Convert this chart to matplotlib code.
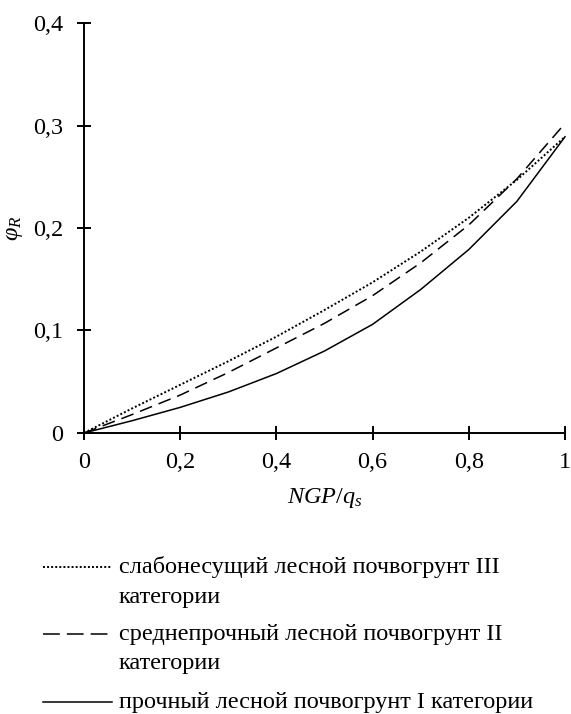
import matplotlib.pyplot as plt
from matplotlib.lines import Line2D

plt.rcParams["font.family"] = ["Liberation Serif", "DejaVu Serif"]
plt.rcParams["mathtext.fontset"] = "custom"
plt.rcParams["mathtext.it"] = "Liberation Serif:italic"
plt.rcParams["mathtext.rm"] = "Liberation Serif"

x = [0, 0.1, 0.2, 0.3, 0.4, 0.5, 0.6, 0.7, 0.8, 0.9, 1.0]
weak = [0, 0.024, 0.047, 0.070, 0.094, 0.120, 0.147, 0.177, 0.210, 0.247, 0.289]
medium = [0, 0.018, 0.037, 0.059, 0.083, 0.107, 0.134, 0.166, 0.203, 0.248, 0.302]
strong = [0, 0.012, 0.025, 0.040, 0.058, 0.080, 0.106, 0.140, 0.179, 0.226, 0.289]

labels = [
    ["слабонесущий лесной почвогрунт III", "категории"],
    ["среднепрочный лесной почвогрунт II", "категории"],
    ["прочный лесной почвогрунт I категории"],
]
xticks = [0, 0.2, 0.4, 0.6, 0.8, 1.0]
xticklabels = ["0", "0,2", "0,4", "0,6", "0,8", "1"]
yticks = [0, 0.1, 0.2, 0.3, 0.4]
yticklabels = ["0", "0,1", "0,2", "0,3", "0,4"]

W, H = 571, 714
fig = plt.figure(figsize=(W / 100, H / 100), dpi=100)
ax = fig.add_axes([84 / W, 1 - 433 / H, (565 - 84) / W, (433 - 23) / H])

plot_styles = [dict(linestyle=(0, (1, 1.1)), linewidth=1.4),
               dict(linestyle=(0, (8.5, 4.6)), linewidth=1.1),
               dict(linestyle="-", linewidth=1.1)]
legend_styles = [dict(linestyle=(0, (1, 1.1)), linewidth=1.4),
                 dict(linestyle=(0, (11, 4.6)), linewidth=1.1),
                 dict(linestyle="-", linewidth=1.1)]

for ys, st in zip([weak, medium, strong], plot_styles):
    ax.plot(x, ys, color="black", clip_on=False, **st)

ax.set_xlim(0, 1)
ax.set_ylim(0, 0.4)
ax.set_xticks(xticks)
ax.set_xticklabels(xticklabels)
ax.set_yticks(yticks)
ax.set_yticklabels(yticklabels)
for s in ["top", "right"]:
    ax.spines[s].set_visible(False)
for s in ["left", "bottom"]:
    ax.spines[s].set_linewidth(1.4)
ax.tick_params(direction="inout", length=9.5, width=1.4, labelsize=17.5)
ax.tick_params(axis="x", pad=9)
ax.tick_params(axis="y", pad=10)
ax.set_xlabel("$NGP/q_s$", fontsize=17.5, labelpad=9)
ax.set_ylabel(r"$\varphi_R$", fontsize=17.5)
ax.yaxis.set_label_coords(-0.123, 0.5)

# legend under the axes: handle at first line, text lines below
baselines = [[573, 603], [640, 669], [708]]
for lines, bl, st in zip(labels, baselines, legend_styles):
    yy = 1 - (bl[0] - 6.5) / H
    fig.add_artist(Line2D([43 / W, 112 / W], [yy, yy], color="black",
                          transform=fig.transFigure, **st))
    for txt, b in zip(lines, bl):
        fig.text(119 / W, 1 - b / H, txt, fontsize=17.5, ha="left",
                 va="baseline")

fig.savefig("out.png", dpi=100)
